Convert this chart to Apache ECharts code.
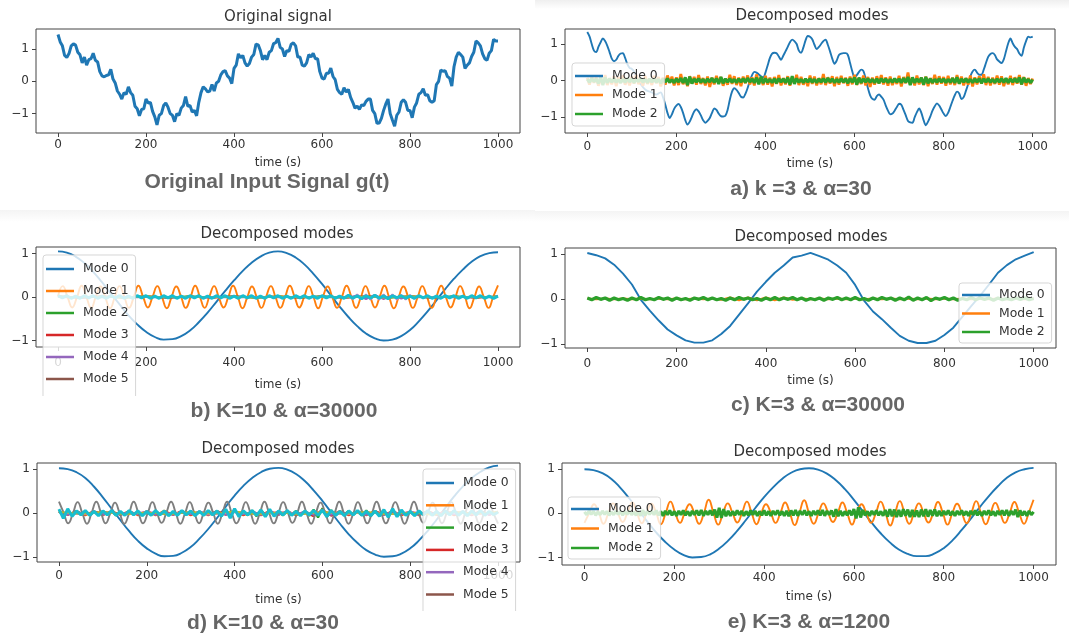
<!DOCTYPE html>
<html>
<head>
<meta charset="utf-8">
<script src="https://cdn.jsdelivr.net/npm/echarts@6/dist/echarts.min.js"></script>
<style>
  html, body { margin: 0; padding: 0; background: #fff; }
  #chart { width: 1069px; height: 637px; }
</style>
</head>
<body>
<div id="chart"></div>
<script>
// ---- sample grids (time in seconds) ----
function steps(step) { const a = []; for (let i = 0; i * step <= 1000 + 1e-9; i++) a.push(i * step); return a; }
function evenly(n) { const a = []; for (let i = 0; i <= n; i++) a.push(i * 1000 / n); return a; }
const T5 = steps(5), T10 = steps(10), T20 = steps(20), T50 = steps(50);

const xTicks = [0, 200, 400, 600, 800, 1000];
const yTicks = [-1, 0, 1];
const TAB10 = ['#1f77b4', '#ff7f0e', '#2ca02c', '#d62728', '#9467bd', '#8c564b', '#e377c2', '#7f7f7f', '#bcbd22', '#17becf'];

// ---- original input signal g(t), every 5 s ----
const originalSignal = [
  1.45,1.22,1.10,0.80,0.74,0.86,1.10,1.16,1.12,0.90,
  0.82,0.57,0.75,0.50,0.67,0.70,0.87,0.65,0.60,0.30,
  0.17,0.14,0.18,0.20,0.37,0.07,-0.05,-0.30,-0.40,-0.55,
  -0.35,-0.40,-0.17,-0.35,-0.43,-0.77,-0.85,-1.07,-0.87,-0.85,
  -0.55,-0.67,-0.65,-0.93,-1.10,-1.35,-1.05,-1.00,-0.75,-0.67,
  -0.80,-1.00,-1.05,-1.25,-1.00,-1.05,-0.83,-0.75,-0.47,-0.77,
  -0.75,-0.95,-0.90,-1.07,-0.65,-0.35,-0.17,-0.23,-0.33,-0.30,
  -0.10,-0.30,-0.05,0.00,0.20,0.30,0.33,0.17,0.10,-0.07,
  0.40,0.50,0.85,0.73,0.80,0.57,0.47,0.55,0.75,0.83,
  1.15,1.13,0.95,0.67,0.80,0.67,0.90,0.95,1.17,1.20,
  1.33,1.05,1.00,0.77,0.95,0.93,1.15,1.19,1.10,0.75,
  0.75,0.50,0.47,0.57,0.83,0.75,0.87,0.70,0.70,0.30,
  0.10,0.07,0.25,0.25,0.41,0.15,0.05,-0.25,-0.35,-0.40,
  -0.20,-0.33,-0.25,-0.50,-0.65,-0.83,-0.77,-0.87,-0.73,-0.75,
  -0.62,-0.55,-0.55,-0.90,-1.00,-1.30,-1.29,-1.15,-0.90,-0.70,
  -0.55,-1.00,-1.20,-1.39,-1.05,-0.95,-0.65,-0.57,-0.65,-0.90,
  -0.90,-1.13,-0.80,-0.67,-0.40,-0.35,-0.23,-0.43,-0.41,-0.60,
  -0.65,-0.60,-0.10,0.00,0.35,0.31,0.33,0.15,0.10,-0.15,
  0.45,0.75,0.90,0.83,0.75,0.40,0.50,0.57,0.77,0.90,
  1.25,1.19,1.10,0.85,0.70,0.65,0.87,0.95,1.30,1.25,
  1.25
];

// ---- a) k=3, alpha=30 (every 5 s) ----
const aMode0 = [
  1.33,1.21,1.00,0.82,0.78,0.92,1.05,1.15,1.08,0.95,
  0.78,0.60,0.53,0.57,0.68,0.74,0.75,0.62,0.45,0.35,
  0.32,0.25,0.12,0.00,-0.10,-0.18,-0.24,-0.28,-0.30,-0.32,
  -0.36,-0.38,-0.35,-0.32,-0.45,-0.65,-0.88,-1.02,-0.92,-0.77,
  -0.68,-0.64,-0.72,-0.88,-1.08,-1.20,-1.12,-0.98,-0.84,-0.78,
  -0.84,-0.95,-1.08,-1.15,-1.10,-1.02,-0.88,-0.76,-0.80,-0.90,
  -0.97,-0.98,-0.96,-0.80,-0.52,-0.30,-0.21,-0.25,-0.34,-0.44,
  -0.46,-0.36,-0.20,0.00,0.15,0.24,0.22,0.17,0.12,0.08,
  0.22,0.42,0.62,0.74,0.76,0.75,0.66,0.57,0.68,0.80,
  0.92,1.05,1.12,1.08,1.00,0.82,0.76,0.90,1.10,1.22,
  1.20,1.13,0.98,0.86,0.92,1.00,1.08,1.12,0.98,0.80,
  0.60,0.46,0.55,0.70,0.74,0.75,0.75,0.70,0.48,0.25,
  0.08,0.15,0.24,0.30,0.26,0.05,-0.20,-0.40,-0.50,-0.52,
  -0.42,-0.38,-0.44,-0.52,-0.68,-0.82,-0.92,-0.90,-0.82,-0.72,
  -0.63,-0.66,-0.80,-0.95,-1.10,-1.14,-1.15,-1.00,-0.86,-0.76,
  -0.88,-1.08,-1.22,-1.12,-0.98,-0.82,-0.70,-0.62,-0.68,-0.79,
  -0.90,-0.97,-0.88,-0.72,-0.55,-0.40,-0.30,-0.35,-0.50,-0.45,
  -0.28,-0.10,0.12,0.25,0.30,0.22,0.16,0.16,0.30,0.48,
  0.65,0.73,0.75,0.70,0.58,0.52,0.48,0.58,0.80,1.02,
  1.15,1.02,0.92,0.86,0.74,0.68,0.90,1.08,1.20,1.18,
  1.20
];
const aMode1 = [
  0.08,-0.11,0.13,-0.06,0.10,-0.14,0.05,-0.09,0.15,-0.12,
  0.07,-0.10,0.12,-0.15,0.09,-0.06,0.14,-0.11,0.06,-0.13,
  0.11,-0.08,0.16,-0.10,0.07,-0.14,0.12,-0.09,0.05,-0.12,
  0.13,-0.07,0.10,-0.16,0.08,-0.11,0.14,-0.06,0.11,-0.13,
  0.09,-0.12,0.18,-0.10,0.06,-0.15,0.12,-0.08,0.10,-0.11,
  0.15,-0.09,0.07,-0.13,0.11,-0.17,0.08,-0.10,0.13,-0.07,
  0.10,-0.14,0.06,-0.11,0.16,-0.09,0.12,-0.12,0.08,-0.15,
  0.11,-0.07,0.14,-0.10,0.09,-0.13,0.17,-0.08,0.06,-0.12,
  0.13,-0.11,0.08,-0.16,0.10,-0.09,0.15,-0.13,0.07,-0.10,
  0.12,-0.14,0.09,-0.07,0.16,-0.12,0.10,-0.11,0.06,-0.15,
  0.14,-0.09,0.11,-0.13,0.07,-0.10,0.18,-0.12,0.09,-0.08,
  0.12,-0.15,0.10,-0.11,0.13,-0.07,0.08,-0.14,0.11,-0.10,
  0.16,-0.12,0.07,-0.09,0.14,-0.13,0.10,-0.17,0.08,-0.11,
  0.12,-0.08,0.15,-0.10,0.09,-0.14,0.11,-0.12,0.06,-0.09,
  0.13,-0.16,0.10,-0.07,0.22,-0.11,0.08,-0.13,0.14,-0.10,
  0.09,-0.12,0.11,-0.15,0.07,-0.09,0.16,-0.11,0.12,-0.08,
  0.10,-0.14,0.13,-0.10,0.08,-0.12,0.15,-0.09,0.11,-0.13,
  0.07,-0.11,0.14,-0.16,0.09,-0.10,0.12,-0.08,0.17,-0.12,
  0.10,-0.13,0.08,-0.09,0.14,-0.11,0.12,-0.15,0.06,-0.10,
  0.13,-0.12,0.09,-0.08,0.15,-0.11,0.10,-0.14,0.07,-0.09,
  0.06
];
const aMode2 = [
  0.04,-0.05,0.06,-0.03,0.05,-0.08,0.10,-0.12,0.09,-0.06,
  0.05,-0.04,0.06,-0.05,0.03,-0.06,0.04,-0.05,0.07,-0.04,
  0.05,-0.06,0.04,-0.03,0.06,-0.05,0.04,-0.06,0.05,-0.04,
  0.06,-0.05,0.04,-0.07,0.05,-0.04,0.06,-0.05,0.03,-0.06,
  0.05,-0.04,0.07,-0.06,0.09,-0.12,0.11,-0.08,0.05,-0.04,
  0.06,-0.05,0.04,-0.06,0.05,-0.04,0.07,-0.05,0.06,-0.09,
  0.10,-0.07,0.05,-0.04,0.06,-0.05,0.04,-0.06,0.05,-0.04,
  0.06,-0.05,0.07,-0.04,0.05,-0.06,0.08,-0.10,0.11,-0.07,
  0.06,-0.05,0.04,-0.06,0.05,-0.07,0.06,-0.04,0.05,-0.06,
  0.08,-0.11,0.12,-0.09,0.06,-0.05,0.04,-0.06,0.05,-0.04,
  0.06,-0.05,0.04,-0.06,0.05,-0.04,0.06,-0.05,0.07,-0.04,
  0.05,-0.06,0.04,-0.05,0.06,-0.04,0.05,-0.07,0.06,-0.05,
  0.09,-0.11,0.08,-0.06,0.05,-0.04,0.06,-0.05,0.04,-0.06,
  0.05,-0.07,0.06,-0.04,0.05,-0.06,0.04,-0.05,0.06,-0.04,
  0.05,-0.06,0.07,-0.05,0.10,-0.12,0.09,-0.06,0.05,-0.04,
  0.08,-0.11,0.10,-0.07,0.05,-0.06,0.04,-0.05,0.06,-0.04,
  0.05,-0.06,0.04,-0.05,0.07,-0.06,0.09,-0.08,0.05,-0.04,
  0.06,-0.05,0.04,-0.06,0.05,-0.04,0.06,-0.07,0.05,-0.04,
  0.06,-0.05,0.04,-0.06,0.05,-0.04,0.06,-0.05,0.07,-0.06,
  0.05,-0.04,0.06,-0.05,0.09,-0.10,0.08,-0.05,0.04,-0.06,
  0.03
];

// ---- b) K=10, alpha=30000 ----
const bMode0 = [ // every 20 s
  1.05,1.02,0.93,0.78,0.58,0.34,0.08,-0.17,-0.42,-0.63,
  -0.80,-0.92,-0.98,-0.97,-0.90,-0.77,-0.58,-0.36,-0.11,0.14,
  0.38,0.60,0.79,0.93,1.02,1.05,1.01,0.91,0.75,0.54,
  0.30,0.04,-0.22,-0.46,-0.67,-0.84,-0.95,-1.00,-0.98,-0.90,
  -0.76,-0.56,-0.33,-0.08,0.18,0.42,0.63,0.81,0.94,1.01,
  1.03
];
const bMode1 = [ // quarter-period samples, 93 steps over 1000 s
  0.02,0.25,0.01,-0.24, -0.01,0.26,0.00,-0.25, 0.01,0.24,-0.01,-0.26,
  0.00,0.25,0.01,-0.25, -0.01,0.26,0.00,-0.24, 0.01,0.25,-0.01,-0.26,
  0.00,0.24,0.01,-0.25, -0.01,0.26,0.00,-0.25, 0.01,0.25,-0.01,-0.24,
  0.00,0.26,0.01,-0.26, -0.01,0.24,0.00,-0.25, 0.01,0.25,-0.01,-0.25,
  0.00,0.26,0.01,-0.24, -0.01,0.25,0.00,-0.26, 0.01,0.24,-0.01,-0.25,
  0.00,0.26,0.01,-0.25, -0.01,0.25,0.00,-0.24, 0.01,0.26,-0.01,-0.26,
  0.00,0.24,0.01,-0.25, -0.01,0.25,0.00,-0.25, 0.01,0.26,-0.01,-0.24,
  0.00,0.25,0.01,-0.26, -0.01,0.24,0.00,-0.25, 0.01,0.27
];
const bMode2 = [0.02,-0.01,0.01,-0.02,0.01,-0.01,0.02,-0.01,0.01,-0.02,0.01,-0.01,0.02,-0.01,0.01,-0.02,0.01,-0.01,0.02,-0.01,0.01];
const bMode3 = [0.01,-0.02,0.01,-0.01,0.02,-0.01,0.01,-0.02,0.01,-0.01,0.02,-0.01,0.01,-0.02,0.01,-0.01,0.02,-0.01,0.01,-0.02,0.01];
const bMode4 = [ // every 20 s
  0.01,-0.01,0.01,-0.01,0.01,-0.01,0.01,-0.01,0.01,-0.01,
  0.01,-0.01,0.01,-0.01,0.01,-0.01,0.01,-0.01,0.01,-0.01,
  0.01,-0.01,0.01,-0.01,0.01,-0.01,0.01,-0.01,0.01,-0.01,
  0.01,-0.01,0.01,-0.01,0.04,-0.05,0.05,-0.05,0.04,-0.04,
  0.02,-0.01,0.01,-0.01,0.01,-0.01,0.01,-0.01,0.01,-0.01,
  0.01
];
const bMode5 = [0.01,-0.01,0.02,-0.01,0.01,-0.02,0.01,-0.01,0.02,-0.01,0.01,-0.02,0.01,-0.01,0.02,-0.01,0.01,-0.02,0.01,-0.01,0.01];
const bMode6 = [ // every 10 s
  0.01,-0.01,0.01,-0.01,0.01,-0.01,0.01,-0.01,0.01,-0.01,
  0.01,-0.01,0.01,-0.01,0.01,-0.01,0.01,-0.01,0.01,-0.01,
  0.01,-0.01,0.01,-0.01,0.01,-0.01,0.01,-0.01,0.01,-0.01,
  0.01,-0.01,0.01,-0.01,0.01,-0.01,0.01,-0.01,0.01,-0.01,
  0.01,-0.01,0.01,-0.01,0.01,-0.01,0.01,-0.01,0.01,-0.01,
  0.01,-0.01,0.01,-0.01,0.01,-0.01,0.01,-0.01,0.01,-0.01,
  0.01,-0.01,0.01,-0.01,0.01,-0.02,0.04,-0.05,0.06,-0.05,
  0.06,-0.06,0.05,-0.06,0.06,-0.05,0.06,-0.06,0.05,-0.06,
  0.05,-0.04,0.02,-0.01,0.01,-0.01,0.01,-0.01,0.01,-0.01,
  0.01,-0.01,0.01,-0.01,0.01,-0.01,0.01,-0.01,0.01,-0.01,
  0.01
];
const bMode7 = [0.02,-0.02,0.01,-0.01,0.02,-0.02,0.01,-0.01,0.02,-0.02,0.01,-0.01,0.02,-0.02,0.01,-0.01,0.02,-0.02,0.01,-0.01,0.02];
const bMode8 = [0.01,-0.01,0.01,-0.02,0.02,-0.01,0.01,-0.01,0.01,-0.02,0.02,-0.01,0.01,-0.01,0.01,-0.02,0.02,-0.01,0.01,-0.01,0.01];
const bMode9 = [ // every 10 s
  0.03,-0.02,0.03,-0.03,0.02,-0.03,0.03,-0.02,0.03,-0.03,
  0.02,-0.03,0.03,-0.02,0.03,-0.03,0.02,-0.03,0.03,-0.02,
  0.03,-0.03,0.02,-0.03,0.03,-0.02,0.03,-0.03,0.02,-0.03,
  0.03,-0.02,0.03,-0.03,0.02,-0.03,0.03,-0.02,0.03,-0.03,
  0.02,-0.03,0.03,-0.02,0.03,-0.03,0.02,-0.03,0.03,-0.02,
  0.03,-0.03,0.02,-0.03,0.03,-0.02,0.03,-0.03,0.02,-0.03,
  0.03,-0.02,0.03,-0.03,0.02,-0.03,0.04,-0.03,0.03,-0.04,
  0.03,-0.03,0.04,-0.03,0.03,-0.04,0.03,-0.02,0.03,-0.03,
  0.02,-0.03,0.03,-0.02,0.03,-0.03,0.02,-0.03,0.03,-0.02,
  0.03,-0.03,0.02,-0.03,0.03,-0.02,0.03,-0.03,0.02,-0.03,
  0.02
];

// ---- c) K=3, alpha=30000 ----
const cMode0 = [ // every 20 s
  1.02,0.97,0.90,0.76,0.56,0.32,-0.02,-0.26,-0.48,-0.68,
  -0.81,-0.92,-0.97,-0.97,-0.92,-0.78,-0.60,-0.35,-0.10,0.16,
  0.38,0.58,0.74,0.92,0.96,1.02,0.95,0.87,0.74,0.58,
  0.31,-0.04,-0.28,-0.45,-0.64,-0.82,-0.93,-0.98,-0.98,-0.93,
  -0.80,-0.64,-0.40,-0.16,0.07,0.32,0.58,0.75,0.88,0.96,
  1.04
];
const cMode1 = [ // every 20 s
  0.01,-0.01,0.01,-0.01,0.01,-0.01,0.01,-0.01,0.01,-0.01,
  0.01,-0.01,0.01,-0.01,0.01,-0.02,0.03,-0.03,0.03,-0.03,
  0.03,-0.03,0.03,-0.02,0.01,-0.01,0.01,-0.01,0.01,-0.01,
  0.01,-0.01,0.01,-0.01,0.01,-0.01,0.01,-0.01,0.01,-0.01,
  0.01,-0.01,0.01,-0.01,0.01,-0.01,0.01,-0.01,0.01,-0.01,
  0.01
];
const cMode2 = [ // every 10 s
  0.02,-0.02,0.03,-0.01,0.02,-0.03,0.02,-0.02,0.01,-0.03,
  0.02,-0.02,0.03,-0.02,0.01,-0.02,0.03,-0.01,0.02,-0.03,
  0.02,-0.02,0.01,-0.03,0.02,-0.01,0.03,-0.02,0.02,-0.02,
  0.01,-0.03,0.02,-0.02,0.03,-0.01,0.02,-0.02,0.01,-0.03,
  0.02,-0.02,0.03,-0.02,0.02,-0.01,0.03,-0.02,0.02,-0.03,
  0.01,-0.02,0.02,-0.03,0.02,-0.01,0.03,-0.02,0.02,-0.02,
  0.03,-0.02,0.01,-0.03,0.02,-0.02,0.03,-0.01,0.02,-0.03,
  0.02,-0.02,0.04,-0.03,0.02,-0.02,0.03,-0.04,0.02,-0.01,
  0.03,-0.02,0.02,-0.03,0.01,-0.02,0.03,-0.02,0.02,-0.01,
  0.02,-0.03,0.02,-0.02,0.01,-0.02,0.02,-0.01,0.02,-0.02,
  0.01
];

// ---- d) K=10, alpha=30 ----
const dMode0 = [ // every 20 s
  1.02,1.00,0.93,0.80,0.60,0.36,0.10,-0.16,-0.41,-0.63,
  -0.80,-0.92,-0.98,-0.97,-0.90,-0.77,-0.58,-0.36,-0.11,0.15,
  0.40,0.62,0.80,0.93,1.01,1.03,0.99,0.89,0.73,0.52,
  0.28,0.02,-0.24,-0.48,-0.68,-0.84,-0.94,-0.99,-0.98,-0.92,
  -0.80,-0.62,-0.40,-0.15,0.12,0.38,0.61,0.80,0.94,1.04,
  1.08
];
const dMode1 = [ // every 20 s
  0.05,-0.04,0.05,-0.05,0.04,-0.05,0.05,-0.04,0.05,-0.05,
  0.04,-0.05,0.06,-0.04,0.05,-0.05,0.04,-0.05,0.05,-0.04,
  0.05,-0.05,0.04,-0.05,0.05,-0.04,0.05,-0.05,0.04,-0.05,
  0.05,-0.04,0.05,-0.05,0.04,-0.05,0.05,-0.04,0.05,-0.05,
  0.04,-0.05,0.05,-0.04,0.05,-0.05,0.04,-0.05,0.05,-0.04,
  0.04
];
const dMode2 = [ // every 10 s
  0.04,-0.05,0.06,-0.04,0.05,-0.03,0.04,-0.05,0.03,-0.04,
  0.05,-0.03,0.04,-0.05,0.03,-0.04,0.05,-0.03,0.04,-0.05,
  0.03,-0.04,0.05,-0.03,0.04,-0.05,0.03,-0.04,0.05,-0.03,
  0.04,-0.05,0.03,-0.04,0.05,-0.03,0.04,-0.05,0.03,-0.04,
  0.05,-0.03,0.04,-0.05,0.06,-0.07,0.08,-0.06,0.05,-0.04,
  0.03,-0.05,0.04,-0.03,0.05,-0.04,0.03,-0.06,0.08,-0.10,
  0.11,-0.09,0.07,-0.05,0.04,-0.03,0.05,-0.04,0.03,-0.05,
  0.06,-0.07,0.05,-0.04,0.03,-0.05,0.04,-0.03,0.05,-0.04,
  0.03,-0.05,0.04,-0.03,0.05,-0.04,0.03,-0.05,0.04,-0.03,
  0.05,-0.04,0.03,-0.05,0.04,-0.03,0.05,-0.04,0.03,-0.04,
  0.03
];
const dMode3 = [ // every 20 s
  0.03,-0.04,0.03,-0.03,0.04,-0.03,0.03,-0.04,0.03,-0.03,
  0.04,-0.03,0.03,-0.04,0.05,-0.04,0.03,-0.03,0.04,-0.03,
  0.03,-0.04,0.03,-0.03,0.04,-0.03,0.03,-0.04,0.03,-0.07,
  0.08,-0.06,0.03,-0.04,0.03,-0.03,0.04,-0.03,0.03,-0.04,
  0.03,-0.03,0.04,-0.03,0.03,-0.04,0.03,-0.03,0.04,-0.03,
  0.02
];
const dMode4 = [ // every 20 s
  0.03,-0.04,0.04,-0.03,0.04,-0.04,0.03,-0.04,0.04,-0.03,
  0.04,-0.04,0.03,-0.04,0.04,-0.03,0.04,-0.04,0.03,-0.04,
  0.04,-0.03,0.04,-0.04,0.03,-0.04,0.04,-0.03,0.04,-0.04,
  0.03,-0.04,0.04,-0.03,0.04,-0.04,0.03,-0.04,0.04,-0.03,
  0.04,-0.04,0.03,-0.04,0.04,-0.03,0.04,-0.04,0.03,-0.04,
  0.03
];
const dMode5 = [0.02,-0.02,0.03,-0.02,0.02,-0.03,0.02,-0.02,0.03,-0.02,0.02,-0.02,0.03,-0.02,0.02,-0.03,0.02,-0.02,0.03,-0.02,0.02];
const dMode6 = [0.03,-0.03,0.02,-0.03,0.03,-0.02,0.03,-0.03,0.02,-0.03,0.03,-0.02,0.03,-0.03,0.02,-0.03,0.03,-0.02,0.03,-0.03,0.02];
const dMode7 = [ // quarter-period samples, 94 steps over 1000 s
  0.26,0.01,-0.23,0.00, 0.25,0.00,-0.24,0.01, 0.26,0.01,-0.23,0.00,
  0.24,0.00,-0.24,-0.01, 0.26,0.01,-0.23,0.00, 0.25,0.00,-0.22,0.01,
  0.26,0.01,-0.24,0.00, 0.25,0.00,-0.23,0.01, 0.24,0.01,-0.24,0.00,
  0.26,0.00,-0.23,-0.01, 0.25,0.01,-0.24,0.00, 0.26,0.00,-0.23,0.01,
  0.25,0.01,-0.22,0.00, 0.26,0.00,-0.24,0.01, 0.24,0.01,-0.23,0.00,
  0.26,0.00,-0.24,-0.01, 0.25,0.01,-0.23,0.00, 0.26,0.00,-0.23,0.01,
  0.25,0.01,-0.24,0.00, 0.26,0.00,-0.22,0.01, 0.24,0.01,-0.23,0.00,
  0.25,0.00,-0.24,0.01, 0.26,0.01,-0.23,0.00, 0.25,0.00,-0.24
];
const dMode8 = [0.03,-0.02,0.03,-0.03,0.02,-0.03,0.03,-0.02,0.04,-0.03,0.02,-0.03,0.03,-0.02,0.03,-0.03,0.02,-0.04,0.03,-0.02,0.03];
const dMode9 = [ // every 10 s
  0.09,-0.12,0.10,-0.07,0.05,-0.04,0.06,-0.05,0.04,-0.06,
  0.05,-0.04,0.06,-0.05,0.04,-0.05,0.06,-0.04,0.05,-0.06,
  0.04,-0.05,0.06,-0.04,0.05,-0.06,0.04,-0.05,0.06,-0.04,
  0.05,-0.06,0.04,-0.05,0.06,-0.04,0.05,-0.07,0.09,-0.11,
  0.10,-0.08,0.05,-0.04,0.06,-0.05,0.07,-0.08,0.09,-0.07,
  0.05,-0.04,0.06,-0.05,0.04,-0.06,0.05,-0.04,0.06,-0.05,
  0.07,-0.08,0.06,-0.05,0.04,-0.06,0.05,-0.04,0.06,-0.05,
  0.04,-0.06,0.05,-0.07,0.08,-0.09,0.10,-0.08,0.07,-0.05,
  0.04,-0.06,0.05,-0.04,0.06,-0.05,0.04,-0.06,0.05,-0.04,
  0.06,-0.05,0.04,-0.06,0.05,-0.04,0.06,-0.05,0.04,-0.03,
  0.02
];

// ---- e) K=3, alpha=1200 ----
const eMode0 = [ // every 20 s
  0.99,0.97,0.90,0.77,0.57,0.33,0.07,-0.19,-0.44,-0.65,
  -0.82,-0.94,-1.00,-0.99,-0.93,-0.80,-0.62,-0.40,-0.15,0.11,
  0.36,0.58,0.77,0.91,0.99,1.01,0.98,0.89,0.74,0.54,
  0.30,0.04,-0.22,-0.46,-0.66,-0.82,-0.92,-0.97,-0.97,-0.91,
  -0.79,-0.61,-0.38,-0.13,0.13,0.38,0.60,0.79,0.92,0.99,
  1.02
];
const eMode1 = [ // quarter-period samples, 94 steps over 1000 s
  -0.22,0.00,0.20,0.01, -0.24,0.00,0.22,0.00, -0.20,0.01,0.24,0.00,
  -0.23,0.00,0.21,0.01, -0.25,0.00,0.26,0.00, -0.22,0.01,0.20,0.00,
  -0.24,0.00,0.30,0.01, -0.26,0.00,0.22,0.00, -0.21,0.01,0.26,0.00,
  -0.25,0.00,0.20,0.01, -0.22,0.00,0.24,0.00, -0.27,0.01,0.29,0.00,
  -0.24,0.00,0.22,0.01, -0.20,0.00,0.24,0.00, -0.26,0.01,0.20,0.00,
  -0.22,0.00,0.26,0.01, -0.28,0.00,0.27,0.00, -0.24,0.01,0.22,0.00,
  -0.21,0.00,0.25,0.01, -0.26,0.00,0.21,0.00, -0.23,0.01,0.27,0.00,
  -0.25,0.00,0.23,0.01, -0.22,0.00,0.25,0.00, -0.24,0.01,0.30
];
const eMode2 = [ // every 5 s
  0.03,-0.04,0.05,-0.03,0.04,-0.05,0.03,-0.04,0.05,-0.03,
  0.04,-0.05,0.03,-0.04,0.05,-0.03,0.04,-0.05,0.04,-0.03,
  0.05,-0.04,0.03,-0.05,0.04,-0.06,0.07,-0.05,0.04,-0.03,
  0.05,-0.04,0.06,-0.05,0.04,-0.06,0.05,-0.04,0.06,-0.05,
  0.04,-0.06,0.05,-0.04,0.06,-0.05,0.04,-0.06,0.05,-0.04,
  0.06,-0.05,0.07,-0.06,0.05,-0.04,0.06,-0.05,0.08,-0.10,
  0.12,-0.11,0.09,-0.07,0.05,-0.06,0.04,-0.05,0.06,-0.04,
  0.05,-0.06,0.04,-0.05,0.06,-0.04,0.05,-0.06,0.04,-0.05,
  0.06,-0.05,0.04,-0.06,0.05,-0.04,0.06,-0.05,0.04,-0.06,
  0.05,-0.07,0.06,-0.05,0.07,-0.06,0.05,-0.04,0.06,-0.05,
  0.04,-0.06,0.05,-0.04,0.06,-0.05,0.07,-0.06,0.05,-0.04,
  0.06,-0.08,0.09,-0.07,0.05,-0.06,0.04,-0.05,0.06,-0.05,
  0.09,-0.12,0.13,-0.10,0.07,-0.05,0.04,-0.06,0.05,-0.04,
  0.06,-0.05,0.04,-0.06,0.07,-0.08,0.09,-0.07,0.08,-0.09,
  0.07,-0.08,0.09,-0.06,0.08,-0.09,0.07,-0.08,0.06,-0.09,
  0.08,-0.07,0.09,-0.08,0.07,-0.06,0.08,-0.07,0.05,-0.06,
  0.05,-0.04,0.06,-0.05,0.04,-0.06,0.05,-0.04,0.06,-0.05,
  0.04,-0.06,0.05,-0.04,0.06,-0.05,0.04,-0.06,0.05,-0.04,
  0.06,-0.05,0.04,-0.06,0.05,-0.04,0.06,-0.05,0.07,-0.06,
  0.05,-0.04,0.08,-0.09,0.06,-0.05,0.04,-0.06,0.05,-0.04,
  0.03
];

// ---- text ----
const panelTitles = ['Original signal', 'Decomposed modes', 'Decomposed modes', 'Decomposed modes', 'Decomposed modes', 'Decomposed modes'];
const captions = ['Original Input Signal g(t)', 'a) k =3 & \u03b1=30', 'b) K=10 & \u03b1=30000', 'c) K=3 & \u03b1=30000', 'd) K=10 & \u03b1=30', 'e) K=3 & \u03b1=1200'];
const xLabel = 'time (s)';

// ---- layout of the six panels ----
const panels = [
  { left: 36,  top: 29,  width: 484, height: 104, ymin: -1.60, ymax: 1.62, lblMargin: 6,  nameGap: 24, titleX: 278, titleY: 17,  capX: 267, capY: 182 },
  { left: 565, top: 29,  width: 490, height: 104, ymin: -1.43, ymax: 1.41, lblMargin: 8,  nameGap: 25, titleX: 812, titleY: 16,  capX: 801, capY: 189 },
  { left: 36,  top: 247, width: 484, height: 100, ymin: -1.15, ymax: 1.15, lblMargin: 10, nameGap: 32, titleX: 277, titleY: 234, capX: 284, capY: 411 },
  { left: 565, top: 248, width: 491, height: 100, ymin: -1.09, ymax: 1.13, lblMargin: 10, nameGap: 27, titleX: 811, titleY: 237, capX: 818, capY: 405 },
  { left: 37,  top: 463, width: 483, height: 99,  ymin: -1.11, ymax: 1.14, lblMargin: 8,  nameGap: 32, titleX: 278, titleY: 449, capX: 263, capY: 623 },
  { left: 562, top: 463, width: 494, height: 102, ymin: -1.17, ymax: 1.13, lblMargin: 7,  nameGap: 26, titleX: 810, titleY: 452, capX: 809, capY: 622 }
];

const FONT = 'DejaVu Sans';
const ink = '#333';

function pairs(times, values) { return times.map((t, i) => [t, values[i]]); }
function line(panel, name, color, times, values, width, smooth) {
  return {
    type: 'line', name: name, xAxisIndex: panel, yAxisIndex: panel,
    data: pairs(times, values), showSymbol: false, symbol: 'none',
    smooth: smooth || false, silent: true, animation: false,
    lineStyle: { color: color, width: width || 1.8 }, itemStyle: { color: color }
  };
}
const M = k => 'Mode ' + k;

const series = [
  line(0, 'g(t)', TAB10[0], T5, originalSignal, 3.0),

  line(1, M(0), TAB10[0], T5, aMode0, 1.9, 0.3),
  line(1, M(1), TAB10[1], T5, aMode1, 2.8),
  line(1, M(2), TAB10[2], T5, aMode2, 3.0),

  line(2, M(0), TAB10[0], T20, bMode0, 1.9, true),
  line(2, M(1), TAB10[1], evenly(93), bMode1, 1.9, true),
  line(2, M(2), TAB10[2], T50, bMode2, 1.6),
  line(2, M(3), TAB10[3], T50, bMode3, 1.6),
  line(2, M(4), TAB10[4], T20, bMode4, 1.8),
  line(2, M(5), TAB10[5], T50, bMode5, 1.6),
  line(2, M(6), TAB10[6], T10, bMode6, 1.8),
  line(2, M(7), TAB10[7], T50, bMode7, 1.6),
  line(2, M(8), TAB10[8], T50, bMode8, 1.6),
  line(2, M(9), TAB10[9], T10, bMode9, 3.0),

  line(3, M(0), TAB10[0], T20, cMode0, 1.9),
  line(3, M(1), TAB10[1], T20, cMode1, 2.0),
  line(3, M(2), TAB10[2], T10, cMode2, 3.2),

  line(4, M(0), TAB10[0], T20, dMode0, 1.9, true),
  line(4, M(1), TAB10[1], T20, dMode1, 2.0),
  line(4, M(2), TAB10[2], T10, dMode2, 2.2),
  line(4, M(3), TAB10[3], T20, dMode3, 2.0),
  line(4, M(4), TAB10[4], T20, dMode4, 1.8),
  line(4, M(5), TAB10[5], T50, dMode5, 1.6),
  line(4, M(6), TAB10[6], T50, dMode6, 1.6),
  line(4, M(7), TAB10[7], evenly(94), dMode7, 1.9, true),
  line(4, M(8), TAB10[8], T50, dMode8, 1.6),
  line(4, M(9), TAB10[9], T10, dMode9, 3.0),

  line(5, M(0), TAB10[0], T20, eMode0, 1.9, true),
  line(5, M(1), TAB10[1], evenly(94), eMode1, 1.9, true),
  line(5, M(2), TAB10[2], T5, eMode2, 3.0)
];

const minusFmt = v => (v < 0 ? '\u2212' + Math.abs(v) : String(v));
const plainFmt = v => String(v);

const grid = panels.map(p => ({
  left: p.left, top: p.top, width: p.width, height: p.height,
  show: true, borderColor: '#444', borderWidth: 1, backgroundColor: 'transparent',
  containLabel: false, outerBoundsMode: 'none'
}));

const xAxis = panels.map((p, i) => ({
  type: 'value', gridIndex: i, min: -50, max: 1050, position: 'bottom',
  axisLine: { show: false, onZero: false }, splitLine: { show: false },
  axisTick: { show: true, length: 4, customValues: xTicks, lineStyle: { color: '#444' } },
  axisLabel: { customValues: xTicks, fontFamily: FONT, fontSize: 12, color: ink, margin: p.lblMargin, formatter: plainFmt },
  name: xLabel, nameLocation: 'middle', nameGap: p.nameGap,
  nameTextStyle: { fontFamily: FONT, fontSize: 12, color: ink }
}));

const yAxis = panels.map((p, i) => ({
  type: 'value', gridIndex: i, min: p.ymin, max: p.ymax, position: 'left',
  axisLine: { show: false, onZero: false }, splitLine: { show: false },
  axisTick: { show: true, length: 4, customValues: yTicks, lineStyle: { color: '#444' } },
  axisLabel: { customValues: yTicks, fontFamily: FONT, fontSize: 12, color: ink, margin: 7, formatter: minusFmt }
}));

const title = [];
panels.forEach((p, i) => {
  title.push({ text: panelTitles[i], left: p.titleX, top: p.titleY, textAlign: 'center', textVerticalAlign: 'middle', padding: 0,
    textStyle: { fontFamily: FONT, fontSize: 15, fontWeight: 'normal', color: ink } });
  title.push({ text: captions[i], left: p.capX, top: p.capY, textAlign: 'center', textVerticalAlign: 'middle', padding: 0,
    textStyle: { fontFamily: 'Liberation Sans', fontSize: 21, fontWeight: 'bold', color: '#666' } });
});

function legendBox(names, left, top, gap, padTop, padBottom) {
  return {
    orient: 'vertical', left: left, top: top, data: names, selectedMode: false,
    icon: 'rect', itemWidth: 28, itemHeight: 2.5, itemGap: gap,
    padding: [padTop, 7, padBottom, 3],
    backgroundColor: 'rgba(255,255,255,0.8)', borderColor: 'rgba(204,204,204,0.8)', borderWidth: 1, borderRadius: 3,
    textStyle: { fontFamily: FONT, fontSize: 12.4, color: ink, lineHeight: 16, padding: [0, 0, 0, 4] }
  };
}
const three = [M(0), M(1), M(2)];
const six = [M(0), M(1), M(2), M(3), M(4), M(5)];
const legend = [
  legendBox(three, 572, 63, 3, 5, 4),
  legendBox(six, 43, 255, 6, 6, 12),
  legendBox(three, 959, 283, 2.5, 4, 3),
  legendBox(six, 423, 469, 6.3, 6, 20),
  legendBox(three, 568, 497, 3.5, 4, 3)
];

// light paper edges and the trimmed legend boxes
const graphic = [
  { type: 'rect', shape: { x: 535, y: 0, width: 534, height: 9 }, silent: true, z: 0,
    style: { fill: { type: 'linear', x: 0, y: 0, x2: 0, y2: 1, colorStops: [{ offset: 0, color: '#efefef' }, { offset: 1, color: '#ffffff' }] } } },
  { type: 'rect', shape: { x: 0, y: 210, width: 535, height: 12 }, silent: true, z: 0,
    style: { fill: { type: 'linear', x: 0, y: 0, x2: 0, y2: 1, colorStops: [{ offset: 0, color: '#f4f4f4' }, { offset: 1, color: '#ffffff' }] } } },
  { type: 'rect', shape: { x: 535, y: 211, width: 534, height: 11 }, silent: true, z: 0,
    style: { fill: { type: 'linear', x: 0, y: 0, x2: 0, y2: 1, colorStops: [{ offset: 0, color: '#f4f4f4' }, { offset: 1, color: '#ffffff' }] } } },
  { type: 'rect', shape: { x: 30, y: 396, width: 115, height: 12 }, silent: true, z: 10, style: { fill: '#ffffff' } },
  { type: 'rect', shape: { x: 410, y: 611, width: 125, height: 26 }, silent: true, z: 10, style: { fill: '#ffffff' } }
];

const chart = echarts.init(document.getElementById('chart'), null, { renderer: 'canvas' });
chart.setOption({
  backgroundColor: '#ffffff',
  animation: false,
  title: title,
  legend: legend,
  grid: grid,
  xAxis: xAxis,
  yAxis: yAxis,
  series: series,
  graphic: graphic
});
</script>
</body>
</html>
